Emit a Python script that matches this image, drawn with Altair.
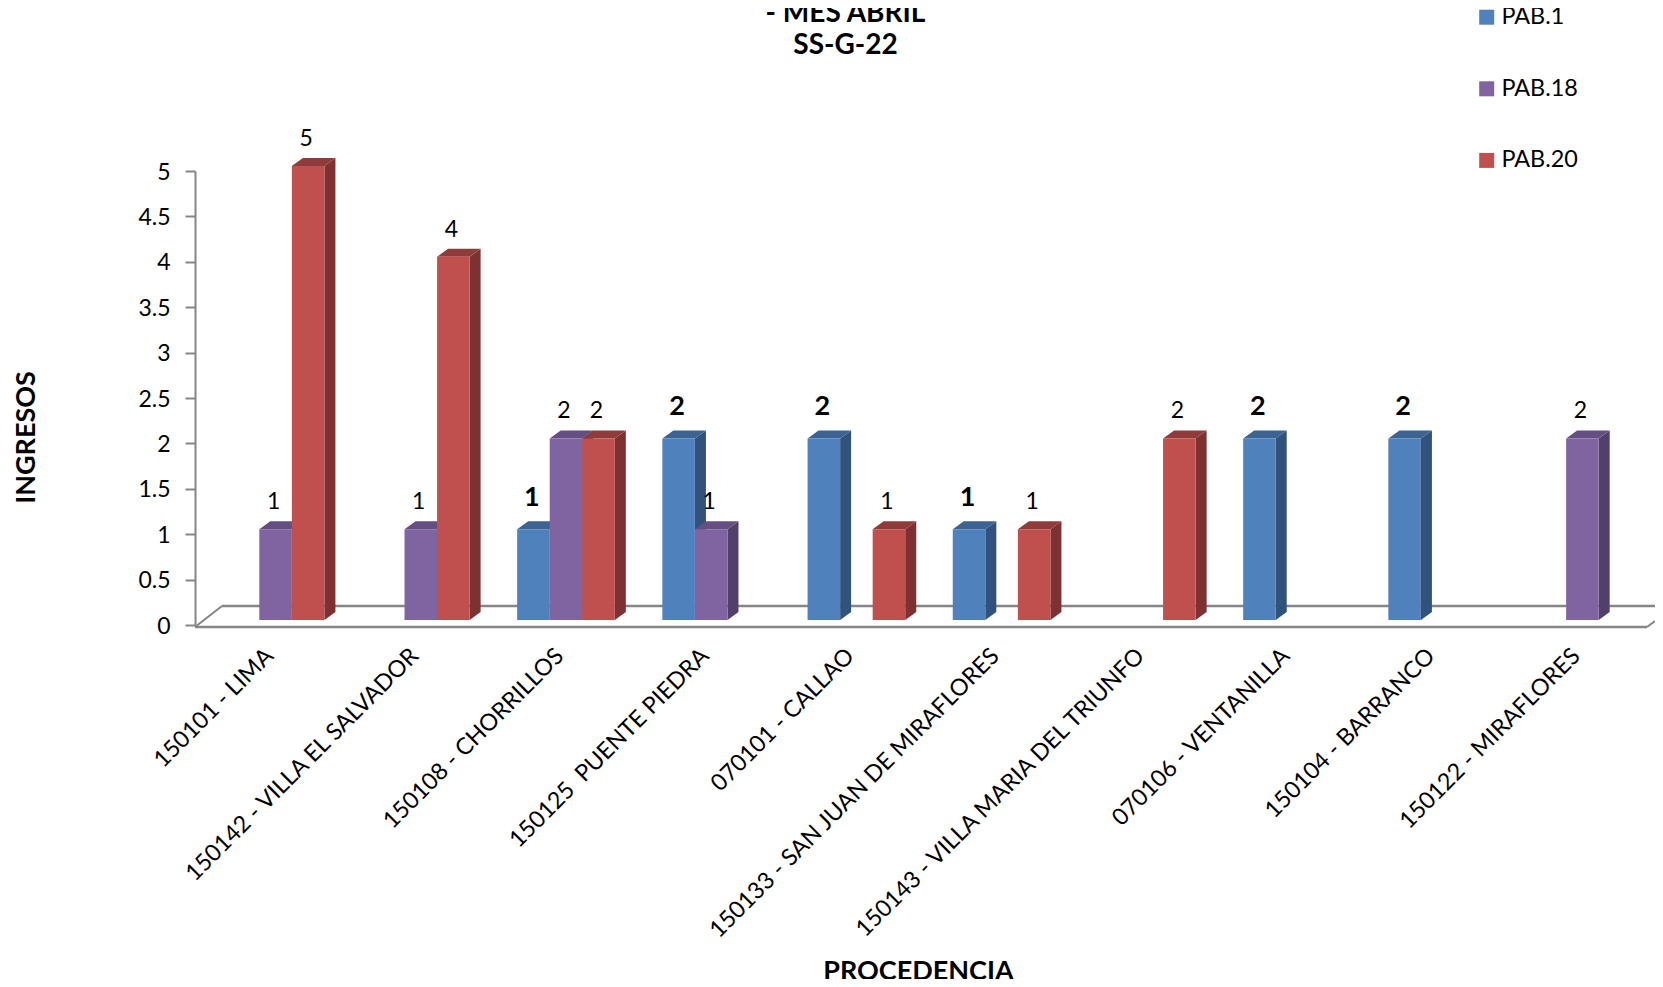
import altair as alt
import pandas as pd

categories = ["150101 - LIMA", "150142 - VILLA EL SALVADOR", "150108 - CHORRILLOS",
              "150125  PUENTE PIEDRA", "070101 - CALLAO", "150133 - SAN JUAN DE MIRAFLORES",
              "150143 - VILLA MARIA DEL TRIUNFO", "070106 - VENTANILLA", "150104 - BARRANCO",
              "150122 - MIRAFLORES"]
pab_1 = [None, None, 1, 2, 2, 1, None, 2, 2, None]
pab_18 = [1, 1, 2, 1, None, None, None, None, None, 2]
pab_20 = [5, 4, 2, None, 1, 1, 2, None, None, None]
series_names = ["PAB.1", "PAB.18", "PAB.20"]
front_colors = ["#4F81BD", "#8064A2", "#C0504D"]
side_colors = ["#31527A", "#523F6A", "#7D3130"]
top_colors = ["#3C6391", "#654E82", "#8F3B39"]
y_ticks = [0, 0.5, 1, 1.5, 2, 2.5, 3, 3.5, 4, 4.5, 5]
title_lines = ["- MES ABRIL", "SS-G-22"]

FONT = "Lato"
GRAY = "#868686"
PLOT_W, PLOT_H = 1460, 454
BAR_W = 145.2 / 4.46
UNIT = PLOT_H / 5
DX, DY, LIFT = 11, 8, 5

rows = []
for name, vals in zip(series_names, [pab_1, pab_18, pab_20]):
    for c, v in zip(categories, vals):
        if v is not None:
            rows.append({"cat": c, "series": name, "value": v, "zero": 0})
df = pd.DataFrame(rows)

x_enc = alt.X("cat:N", sort=categories, title="PROCEDENCIA",
              scale=alt.Scale(domain=categories, paddingInner=0, paddingOuter=0.0275, align=1, round=False),
              axis=alt.Axis(labelAngle=-45, labelAlign="right", labelBaseline="middle",
                            labelExpr="replace(datum.label, '  ', ' \u00a0')",
                            labelFont=FONT, labelFontSize=23.3, labelColor="black", labelPadding=27,
                            labelOffset=-6, labelOverlap=False, labelLimit=0, domain=False, ticks=False,
                            grid=False, titleFont=FONT, titleFontSize=27, titleFontWeight="bold",
                            titleColor="black", titleX=723, titleY=354, titleBaseline="alphabetic"))
x_off = alt.XOffset("series:N", sort=series_names,
                    scale=alt.Scale(domain=series_names, paddingInner=0, paddingOuter=0.73, round=False))
y_enc = alt.Y("value:Q", stack=None, title="INGRESOS",
              scale=alt.Scale(domain=[0, 5], nice=False),
              axis=alt.Axis(values=y_ticks, format="~g", grid=False, domainColor=GRAY, domainWidth=2,
                            tickColor=GRAY, tickWidth=2, tickSize=10, labelPadding=15, labelOffset=1,
                            labelFont=FONT, labelFontSize=23, labelColor="black",
                            titleFont=FONT, titleFontSize=27, titleFontWeight="bold", titleColor="black",
                            titleX=-155, titleY=266, titleAngle=270))

heights = [1, 2, 4, 5]
half = BAR_W / 2
side_paths = [
    f"M{half},{-LIFT} L{half + DX},{-LIFT - DY} L{half + DX},{-LIFT - DY - h * UNIT} L{half},{-LIFT - h * UNIT} Z"
    for h in heights
]
top_path = f"M{-half},{-LIFT} L{-half + DX},{-LIFT - DY} L{half + DX},{-LIFT - DY} L{half},{-LIFT} Z"

one = pd.DataFrame({"a": [0]})


def rule(x, x2, y, y2, w=2):
    return alt.Chart(one).mark_rule(color=GRAY, strokeWidth=w).encode(
        x=alt.value(x), x2=alt.value(x2), y=alt.value(y), y2=alt.value(y2))


layers = [
    rule(27, PLOT_W, 435, 435, 2.5),
    rule(0, 27, 456, 435, 2),
    rule(0, 1452, 456, 456, 2.5),
    rule(1452, PLOT_W, 456, 450, 2),
]

for name, side, top in zip(series_names, side_colors, top_colors):
    sub = alt.Chart(df).transform_filter(alt.datum.series == name)
    layers.append(sub.mark_point(filled=True, size=4, opacity=1, strokeWidth=0, fill=side).encode(
        x=x_enc, xOffset=x_off, y=alt.Y("zero:Q", scale=alt.Scale(domain=[0, 5], nice=False)),
        shape=alt.Shape("value:N", scale=alt.Scale(domain=heights, range=side_paths), legend=None)))
    layers.append(sub.mark_point(filled=True, size=4, opacity=1, strokeWidth=0, fill=top, shape=top_path).encode(
        x=x_enc, xOffset=x_off, y=y_enc))
    layers.append(sub.mark_bar(yOffset=-LIFT, y2Offset=-LIFT).encode(
        x=x_enc, xOffset=x_off, y=y_enc, y2=alt.Y2("zero:Q"),
        color=alt.Color("series:N", scale=alt.Scale(domain=series_names, range=front_colors),
                        legend=alt.Legend(orient="none", legendX=1280, legendY=-165.5, title=None,
                                          symbolType="square", symbolSize=225, symbolStrokeWidth=0,
                                          labelFont=FONT, labelFontSize=23.4, labelColor="black",
                                          labelOffset=3, rowPadding=46.6, symbolOpacity=1))))

reg = alt.Chart(df).transform_filter(alt.datum.series != "PAB.1").mark_text(
    font=FONT, fontSize=23, color="black", dx=-2, dy=-32, baseline="middle").encode(
    x=x_enc, xOffset=x_off, y=y_enc, text=alt.Text("value:Q"))
bold = alt.Chart(df).transform_filter(alt.datum.series == "PAB.1").mark_text(
    font=FONT, fontSize=27, fontWeight="bold", color="black", dx=-1.5, dy=-36, baseline="middle").encode(
    x=x_enc, xOffset=x_off, y=y_enc, text=alt.Text("value:Q"))
layers += [reg, bold]

for line, by in zip(title_lines, [-149, -117]):
    layers.append(alt.Chart(pd.DataFrame({"t": [line]})).mark_text(
        font=FONT, fontSize=28, fontWeight="bold", color="black", baseline="alphabetic", align="center").encode(
        x=alt.value(650.5), y=alt.value(by), text="t:N"))

chart = alt.layer(*layers).properties(
    width=PLOT_W, height=PLOT_H,
    autosize=alt.AutoSizeParams(type="none"),
    padding={"left": 187, "top": 163, "right": 0, "bottom": 354},
    background="white",
).configure_view(stroke=None)

chart.save("out.html", embed_options={"renderer": "svg", "actions": False})
